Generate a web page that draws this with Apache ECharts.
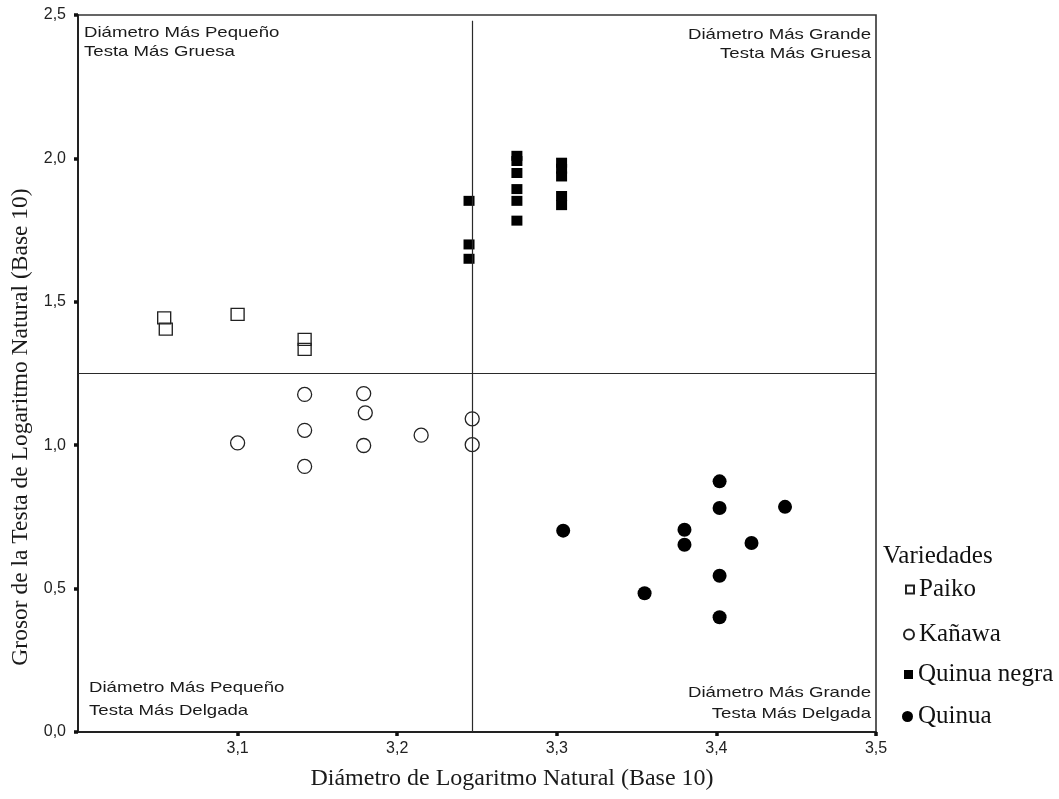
<!DOCTYPE html>
<html><head><meta charset="utf-8">
<script src="https://cdn.jsdelivr.net/npm/echarts@6/dist/echarts.min.js"></script>
<style>html,body{margin:0;padding:0;background:#fff}#c{width:1059px;height:799px}</style>
</head><body><div id="c"></div>
<script>
// ---- data ----
const seriesNames = ['Paiko', 'Kañawa', 'Quinua negra', 'Quinua'];
const paiko = [[3.054,1.444],[3.055,1.405],[3.100,1.456],[3.142,1.369],[3.142,1.334]];
const kanawa = [[3.142,1.177],[3.179,1.180],[3.180,1.113],[3.142,1.052],[3.100,1.008],[3.179,0.999],[3.142,0.926],[3.215,1.035],[3.247,1.092],[3.247,1.002]];
const quinuaNegra = [[3.245,1.852],[3.245,1.700],[3.245,1.650],[3.275,2.009],[3.275,1.991],[3.275,1.949],[3.275,1.893],[3.275,1.852],[3.275,1.783],[3.303,1.985],[3.303,1.964],[3.303,1.937],[3.303,1.869],[3.303,1.837]];
const quinua = [[3.402,0.874],[3.402,0.781],[3.443,0.785],[3.304,0.702],[3.380,0.705],[3.380,0.653],[3.422,0.659],[3.402,0.545],[3.355,0.484],[3.402,0.400]];
const xRef = 3.247;
const yRef = 1.25;
const vRefTop = 2.48;
const xAxisTitle = 'Diámetro de Logaritmo Natural (Base 10)';
const yAxisTitle = 'Grosor de la Testa de Logaritmo Natural (Base 10)';
const legendTitle = 'Variedades';
const quadTL = ['Diámetro Más Pequeño', 'Testa Más Gruesa'];
const quadTR = ['Diámetro Más Grande', 'Testa Más Gruesa'];
const quadBL = ['Diámetro Más Pequeño', 'Testa Más Delgada'];
const quadBR = ['Diámetro Más Grande', 'Testa Más Delgada'];

// ---- chart ----
const SANS = 'Liberation Sans';
const SERIF = 'Liberation Serif';
const fmt = v => v.toFixed(1).replace('.', ',');
const chart = echarts.init(document.getElementById('c'), null, {renderer: 'canvas'});

const openStyle = {color: 'rgba(255,255,255,0)', borderColor: '#222', borderWidth: 1.3, opacity: 1};
const fillStyle = {color: '#000', opacity: 1};

const sx = 1.24;
function qText(x, y, text, align) {
  return {type: 'text', x: x, y: y, scaleX: sx, silent: true,
    style: {text: text, fontFamily: SANS, fontSize: 15, fill: '#1a1a1a', textAlign: align, textVerticalAlign: 'middle'}};
}

const legendCfg = [
  {w: 8, top: 572},
  {w: 10, top: 617},
  {w: 9, top: 657},
  {w: 11, top: 699}
];

chart.setOption({
  animation: false,
  backgroundColor: '#fff',
  grid: {left: 78, right: 183, top: 15, bottom: 67, show: true, borderColor: '#333', borderWidth: 1.6, backgroundColor: 'transparent'},
  xAxis: {
    type: 'value', min: 3.0, max: 3.5, interval: 0.1,
    axisLine: {show: true, onZero: false, lineStyle: {color: '#222', width: 2}},
    axisTick: {show: true, length: 4, lineStyle: {color: '#111', width: 3.5}},
    axisLabel: {showMinLabel: false, formatter: fmt, fontFamily: SANS, fontSize: 16, color: '#222', margin: 9},
    splitLine: {show: false}
  },
  yAxis: {
    type: 'value', min: 0, max: 2.5, interval: 0.5,
    axisLine: {show: true, onZero: false, lineStyle: {color: '#222', width: 2}},
    axisTick: {show: true, length: 4, lineStyle: {color: '#111', width: 3.5}},
    axisLabel: {formatter: fmt, fontFamily: SANS, fontSize: 16, color: '#222', margin: 12},
    splitLine: {show: false}
  },
  legend: seriesNames.map((n, i) => ({
    data: [n], orient: 'vertical', left: 913 - 5 - legendCfg[i].w, top: legendCfg[i].top,
    itemWidth: legendCfg[i].w, itemHeight: legendCfg[i].w, selectedMode: false,
    textStyle: {fontFamily: SERIF, fontSize: 25, color: '#111'}
  })),
  graphic: [
    qText(84, 33, quadTL[0], 'left'), qText(84, 52, quadTL[1], 'left'),
    qText(871, 35, quadTR[0], 'right'), qText(871, 54, quadTR[1], 'right'),
    qText(89, 688, quadBL[0], 'left'), qText(89, 711, quadBL[1], 'left'),
    qText(871, 693, quadBR[0], 'right'), qText(871, 714, quadBR[1], 'right'),
    {type: 'text', x: 512, y: 779, silent: true,
      style: {text: xAxisTitle, fontFamily: SERIF, fontSize: 24, fill: '#1a1a1a', textAlign: 'center', textVerticalAlign: 'middle'}},
    {type: 'text', x: 21, y: 427, rotation: Math.PI / 2, silent: true,
      style: {text: yAxisTitle, fontFamily: SERIF, fontSize: 23.5, fill: '#1a1a1a', textAlign: 'center', textVerticalAlign: 'middle'}},
    {type: 'text', x: 883, y: 556, silent: true,
      style: {text: legendTitle, fontFamily: SERIF, fontSize: 25, fill: '#111', textAlign: 'left', textVerticalAlign: 'middle'}}
  ],
  series: [
    {type: 'scatter', name: 'ref', data: [], z: 1, silent: true,
      markLine: {silent: true, symbol: ['none', 'none'], label: {show: false}, animation: false,
        lineStyle: {color: '#2a2a2a', width: 1.2, type: 'solid'},
        data: [
          {yAxis: yRef},
          [{coord: [xRef, 0]}, {coord: [xRef, vRefTop]}]
        ]}},
    {type: 'scatter', name: seriesNames[0], data: paiko, symbol: 'rect', symbolSize: [13, 12], itemStyle: openStyle, z: 3},
    {type: 'scatter', name: seriesNames[1], data: kanawa, symbol: 'circle', symbolSize: 14, itemStyle: openStyle, z: 3},
    {type: 'scatter', name: seriesNames[2], data: quinuaNegra, symbol: 'rect', symbolSize: [11, 10], itemStyle: fillStyle, z: 3},
    {type: 'scatter', name: seriesNames[3], data: quinua, symbol: 'circle', symbolSize: 14, itemStyle: fillStyle, z: 3}
  ]
});
</script>
</body></html>
